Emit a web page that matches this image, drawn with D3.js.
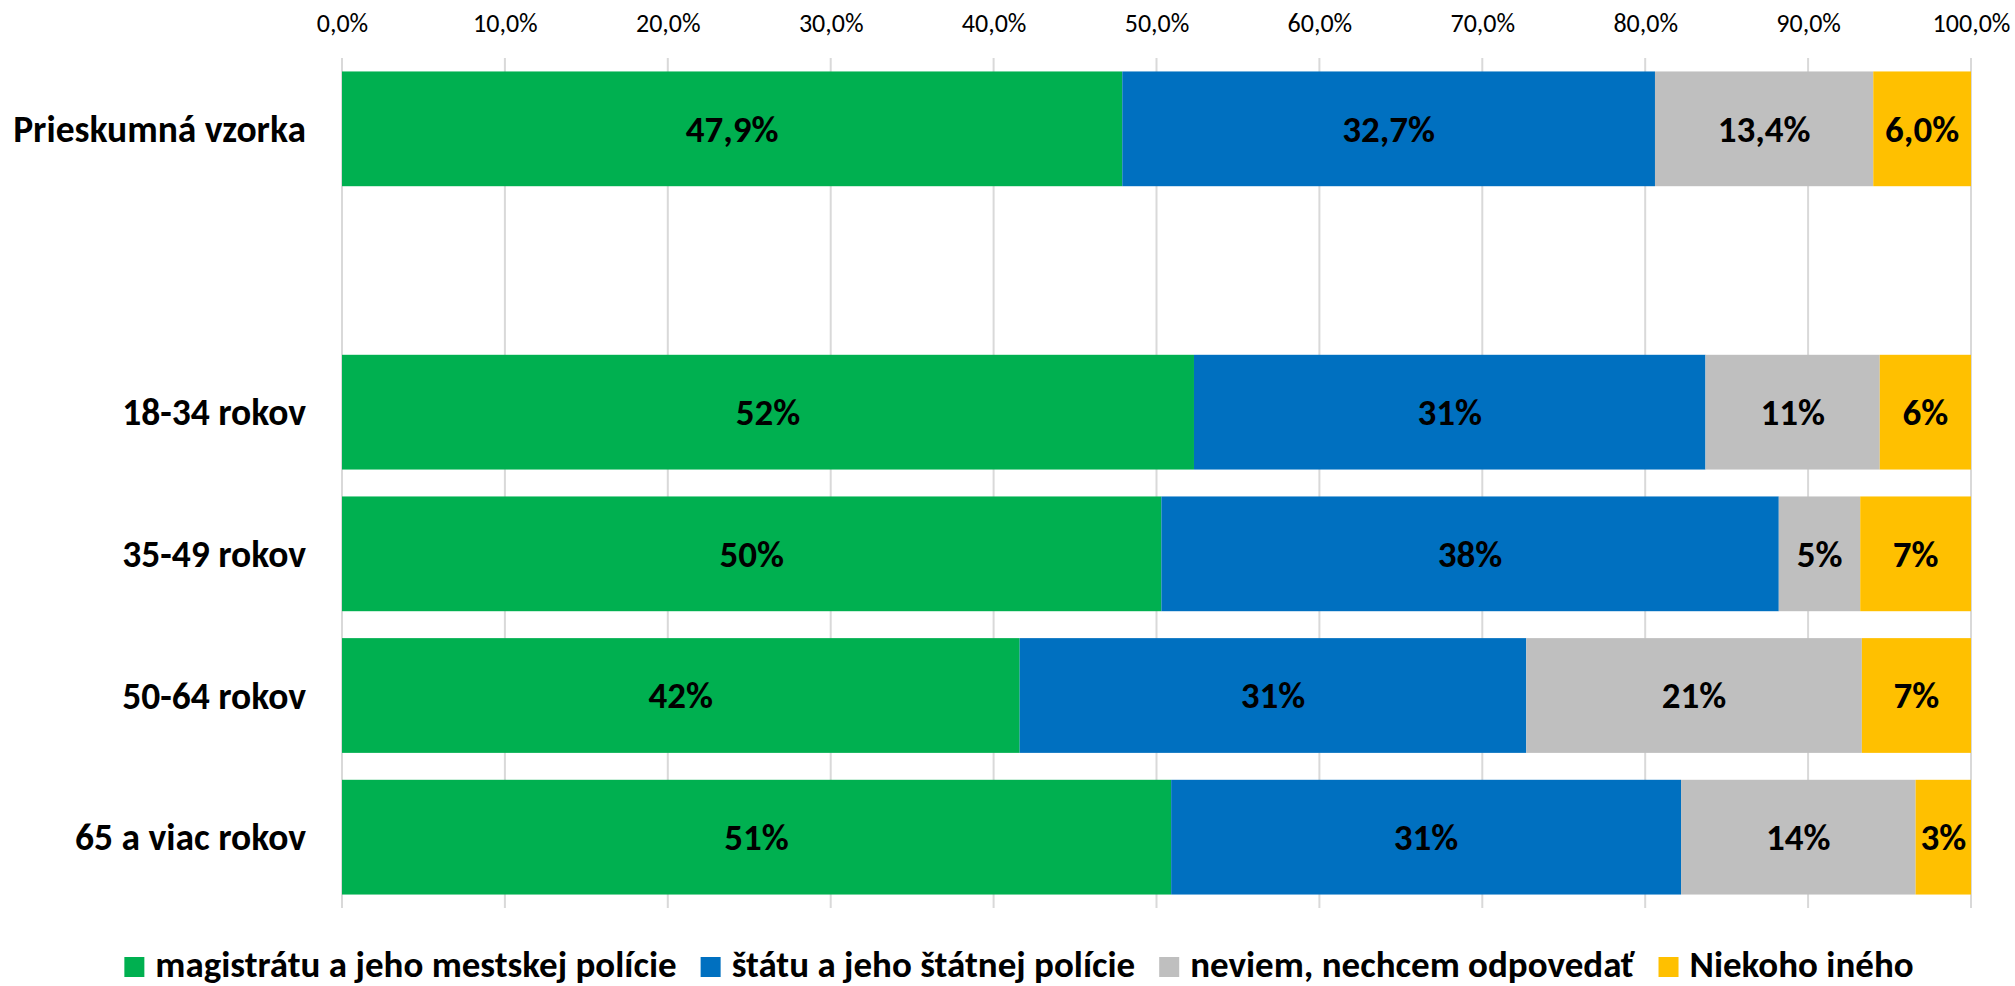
<!DOCTYPE html>
<html>
<head>
<meta charset="utf-8">
<script src="https://cdn.jsdelivr.net/npm/d3@7"></script>
<style>
    body { margin: 0; background: #fff; }
    text { font-family: Carlito, Calibri, 'Liberation Sans Narrow', 'Liberation Sans', sans-serif; }
</style>
</head>
<body>
<svg id="chart" width="2015" height="986"></svg>
<script>
// categories (empty one keeps the gap under the total row)
var categories = ["Prieskumná vzorka", "", "18-34 rokov", "35-49 rokov", "50-64 rokov", "65 a viac rokov"];
var series = ["magistrátu a jeho mestskej polície", "štátu a jeho štátnej polície", "neviem, nechcem odpovedať", "Niekoho iného"];
var colors = ["#00B050", "#0070C0", "#BFBFBF", "#FFC000"];

// values in percent, one array per series (same order as categories)
var magistrat = [47.9, null, 52.3, 50.3, 41.6, 50.9];
var stat      = [32.7, null, 31.4, 37.9, 31.1, 31.3];
var neviem    = [13.4, null, 10.7, 5.0, 20.6, 14.4];
var ineho     = [6.0, null, 5.6, 6.8, 6.7, 3.4];

var tickValues = [0, 10, 20, 30, 40, 50, 60, 70, 80, 90, 100];

var locale = d3.formatLocale({decimal: ",", thousands: " ", grouping: [3], currency: ["", "€"]});
var fmt1 = locale.format(".1f");
var fmt0 = locale.format(".0f");

var svg = d3.select("#chart"),
    plotLeft = 342, plotRight = 1971, plotTop = 58, plotBottom = 908;

var x = d3.scaleLinear().domain([0, 100]).range([plotLeft, plotRight]);
var y = d3.scaleBand().domain(d3.range(categories.length)).range([plotTop, plotBottom])
    .paddingInner(0.19).paddingOuter(0.095);

// build rows for the stack
var rows = categories.map(function(c, i) {
    return {cat: c, i: i, s0: magistrat[i], s1: stat[i], s2: neviem[i], s3: ineho[i]};
}).filter(function(d) { return d.s0 != null; });

var stack = d3.stack().keys(["s0", "s1", "s2", "s3"]);
var layers = stack(rows);

// gridlines
svg.append("g")
    .selectAll("line")
    .data(tickValues)
    .enter()
    .append("line")
    .attr("x1", function(d) { return x(d); })
    .attr("x2", function(d) { return x(d); })
    .attr("y1", plotTop)
    .attr("y2", plotBottom)
    .attr("stroke", "#d9d9d9")
    .attr("stroke-width", 2);

// top axis labels
var xAxis = d3.axisTop(x).tickValues(tickValues).tickSize(0).tickPadding(0)
    .tickFormat(function(d) { return fmt1(d) + "%"; });
var ax = svg.append("g").attr("transform", "translate(0,32)").call(xAxis);
ax.select(".domain").remove();
ax.selectAll("text").style("font-size", "26px").attr("fill", "#000").attr("dy", 0);

// bars
svg.append("g")
    .selectAll("g")
    .data(layers)
    .enter()
    .append("g")
    .attr("fill", function(d, i) { return colors[i]; })
    .selectAll("rect")
    .data(function(d) { return d; })
    .enter()
    .append("rect")
    .attr("x", function(d) { return x(d[0]); })
    .attr("width", function(d) { return x(d[1]) - x(d[0]); })
    .attr("y", function(d) { return y(d.data.i); })
    .attr("height", y.bandwidth());

// data labels
svg.append("g")
    .selectAll("g")
    .data(layers)
    .enter()
    .append("g")
    .selectAll("text")
    .data(function(d) { return d; })
    .enter()
    .append("text")
    .attr("x", function(d) { return (x(d[0]) + x(d[1])) / 2; })
    .attr("y", function(d) { return y(d.data.i) + y.bandwidth() / 2; })
    .attr("dy", "0.35em")
    .attr("text-anchor", "middle")
    .style("font-size", "37px")
    .style("font-weight", "bold")
    .text(function(d) {
        var v = d[1] - d[0];
        return (d.data.i == 0 ? fmt1(v) : fmt0(v)) + "%";
    });

// category labels
svg.append("g")
    .selectAll("text")
    .data(rows)
    .enter()
    .append("text")
    .attr("x", 306)
    .attr("y", function(d) { return y(d.i) + y.bandwidth() / 2; })
    .attr("dy", "0.35em")
    .attr("text-anchor", "end")
    .style("font-size", "37.5px")
    .style("font-weight", "bold")
    .text(function(d) { return d.cat; });

// legend
var legend = svg.append("g");
var items = legend.selectAll("g")
    .data(series)
    .enter()
    .append("g");
items.append("rect")
    .attr("width", 20).attr("height", 20)
    .attr("y", 957)
    .attr("fill", function(d, i) { return colors[i]; });
items.append("text")
    .attr("x", 31)
    .attr("y", 977)
    .style("font-size", "37px")
    .style("font-weight", "bold")
    .text(function(d) { return d; });

var pos = 0;
items.each(function() {
    var g = d3.select(this);
    g.attr("transform", "translate(" + pos + ",0)");
    pos += 31 + g.select("text").node().getComputedTextLength() + 24;
});
var total = pos - 24;
legend.attr("transform", "translate(" + (1019 - total / 2) + ",0)");
</script>
</body>
</html>
